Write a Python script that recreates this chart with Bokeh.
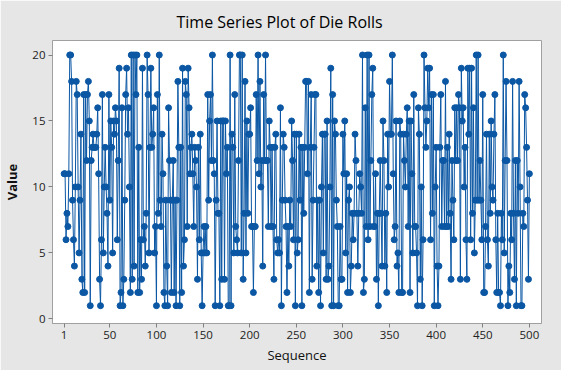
from bokeh.plotting import figure
from bokeh.models import FixedTicker, Range1d
from bokeh.embed import file_html
from bokeh.resources import INLINE

rolls_001_100 = [11,11,6,8,7,11,20,20,18,9, 6,4,10,18,17,10,5,9,14,3, 2,17,2,17,12,17,18,15,1,12,
                 13,14,13,13,13,14,16,11,3,1, 6,17,5,10,13,10,8,4,17,9, 15,13,5,15,14,16,15,6,12,19,
                 1,2,16,1,3,9,17,19,14,16, 10,2,20,3,20,4,20,17,20,2, 13,2,6,3,19,6,7,4,8,20,
                 17,5,13,19,13,14,16,5,7,1]
rolls_101_200 = [17,8,20,9,7,14,11,2,1,9, 4,1,16,12,9,2,9,12,2,9, 1,9,18,13,1,13,2,19,4,6,
                 18,17,7,19,16,11,13,14,11,7, 13,12,10,3,13,6,14,5,1,5, 7,5,7,5,17,9,15,17,12,20,
                 12,11,1,9,15,8,8,1,15,3, 15,15,3,15,11,13,1,1,20,1, 14,13,5,17,7,6,5,12,20,20,
                 5,20,3,8,18,5,15,8,14,14]
rolls_201_300 = [16,7,7,2,7,7,17,12,20,11, 18,10,12,4,17,12,20,12,12,7, 15,13,7,13,7,3,13,14,6,5,
                 6,5,16,1,9,14,13,9,7,2, 7,4,9,7,15,12,6,14,1,14, 5,6,14,9,13,1,13,8,13,18,
                 18,11,18,2,13,17,3,9,13,17, 17,4,9,2,9,1,10,14,5,14, 14,3,15,3,4,10,19,1,17,1,
                 15,14,9,7,1,1,7,3,3,14]
rolls_301_400 = [11,15,5,11,2,9,10,2,4,8, 6,8,14,12,8,4,8,11,10,8, 20,2,3,16,7,20,6,20,7,12,
                 17,19,7,7,11,3,8,1,8,12, 8,4,15,12,4,8,2,14,10,18, 14,14,20,11,6,7,15,4,5,2,
                 15,14,2,2,14,12,10,14,16,7, 15,2,15,11,5,17,7,7,5,1, 16,14,3,10,1,6,20,16,13,15,
                 19,16,19,6,17,8,17,1,10,13]
rolls_401_500 = [4,1,4,13,17,7,12,12,7,18, 7,13,7,14,8,3,12,9,6,16, 12,16,12,17,16,3,19,15,16,10,
                 13,6,3,19,14,19,6,19,8,16, 5,9,20,9,20,9,12,9,6,17, 2,2,7,14,6,4,14,8,15,10,
                 9,14,17,6,2,8,2,2,1,8, 6,20,5,12,18,12,1,4,2,8, 6,18,8,3,12,1,12,8,18,10,
                 1,1,8,7,17,16,13,9,3,11]

values = rolls_001_100 + rolls_101_200 + rolls_201_300 + rolls_301_400 + rolls_401_500
sequence = list(range(1, len(values) + 1))
x_ticks = [1, 50, 100, 150, 200, 250, 300, 350, 400, 450, 500]
y_ticks = [0, 5, 10, 15, 20]

BLUE = "#0B57A4"
FONT = "Open Sans"

p = figure(width=561, height=370, output_backend="svg", toolbar_location=None,
           x_range=Range1d(-11.5, 513), y_range=Range1d(-0.35, 21.1),
           min_border_left=48, min_border_right=20, min_border_top=39, min_border_bottom=47,
           title="Time Series Plot of Die Rolls")
p.background_fill_color = "white"
p.border_fill_color = "#E6E6E6"
p.outline_line_color = "#A0A0A0"
p.outline_line_width = 1
p.grid.visible = False

p.title.text_font = FONT
p.title.text_font_size = "16px"
p.title.text_font_style = "normal"
p.title.text_color = "#000000"
p.title.align = "left"
p.title.offset = 124
p.title.standoff = 16

p.line(sequence, values, line_color=BLUE, line_width=1)
p.scatter(sequence, values, size=6, fill_color=BLUE, line_color=BLUE)

for ax in (p.xaxis[0], p.yaxis[0]):
    ax.axis_line_color = "#A0A0A0"
    ax.major_tick_line_color = "#808080"
    ax.major_tick_out = 4
    ax.major_tick_in = 0
    ax.minor_tick_line_color = None
    ax.major_label_text_font = FONT
    ax.major_label_text_font_size = "11.5px"
    ax.major_label_text_color = "#222222"
    ax.major_label_standoff = 3
    ax.axis_label_text_font = FONT
    ax.axis_label_text_font_size = "13px"
    ax.axis_label_text_color = "#111111"

p.xaxis[0].ticker = FixedTicker(ticks=x_ticks)
p.yaxis[0].ticker = FixedTicker(ticks=y_ticks)
p.xaxis[0].axis_label = "Sequence"
p.xaxis[0].axis_label_text_font_style = "normal"
p.xaxis[0].axis_label_standoff = 4
p.yaxis[0].axis_label = "Value"
p.yaxis[0].axis_label_text_font_style = "bold"
p.yaxis[0].axis_label_standoff = 8

open("out.html", "w").write(file_html(p, INLINE))
